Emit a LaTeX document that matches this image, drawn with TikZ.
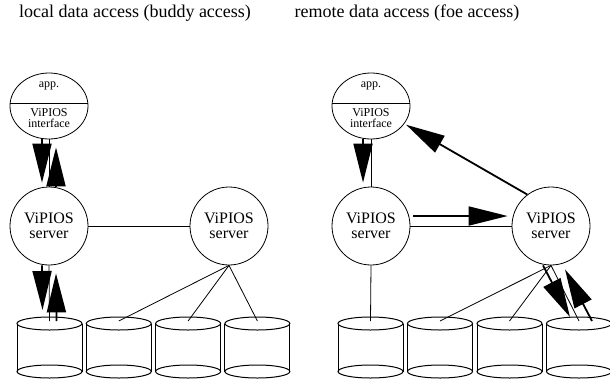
\documentclass[tikz,border=0pt]{standalone}
\usepackage{fontspec}
\setmainfont{Liberation Serif}
\usepackage{tikz}
\usetikzlibrary{arrows.meta}
\usetikzlibrary{shapes.geometric}
\tikzset{
  Server/.style={draw,circle,line width=.8pt,minimum size=78pt,inner sep=0pt,
    align=center,font=\fontsize{16}{15.5}\selectfont}, % ViPIOS-Server
  Anw/.style={draw,ellipse,line width=.8pt,minimum width=78pt,minimum height=66pt,
    inner sep=0pt}, % Anwendung
  AnwText/.style={align=center,inner sep=0pt,font=\fontsize{12}{10.5}\selectfont},
  Titel/.style={font=\fontsize{18}{20}\selectfont},
  Leitung/.style={line width=.8pt}, % duenne Verbindungen
  Platte/.style={line width=1pt}, % Plattenspeicher
  Pfeil/.style={line width=1.8pt,->} % dicke Pfeile
}

\begin{document}
\begin{tikzpicture}[x=1pt,y=-1pt,
>={Triangle[length=39pt,width=19pt]} % Voreinstellung fuer Pfeilspitzen
]
\useasboundingbox (0,0) rectangle (610,378);

%Ueberschriften
\node[Titel] (tL) at (135,13) {local data access (buddy access)};
\node[Titel] (tR) at (407,13) {remote data access (foe access)};

%Bauteile links
\node[Anw] (appL) at (49,106) {};
\node[Server] (srvA) at (49,226) {ViPIOS\\server};
\node[Server] (srvB) at (229,226) {ViPIOS\\server};

%Bauteile rechts
\node[Anw] (appR) at (371,106) {};
\node[Server] (srvC) at (371,226) {ViPIOS\\server};
\node[Server] (srvD) at (551,226) {ViPIOS\\server};

%Anwendung: Trennlinie und Text
\foreach \a in {appL,appR}{%
\draw[Leitung] ([yshift=3pt]\a.west) -- ([yshift=3pt]\a.east);
\node[AnwText] (\a-o) at ([yshift=20pt]\a.center) {app.};
\node[AnwText] (\a-u) at ([yshift=-12pt]\a.center) {ViPIOS\\interface};
};

%Platten
\foreach \x [count=\i] in {49.5,118.8,188.1,257.4}{%
\draw[Platte] (\x,323.5) ellipse [x radius=32.5,y radius=6.5];
\draw[Platte] (\x,371.5) ellipse [x radius=32.5,y radius=6.5];
\draw[Platte] ({\x-32.5},323.5) -- ({\x-32.5},371.5);
\draw[Platte] ({\x+32.5},323.5) -- ({\x+32.5},371.5);
\coordinate (pL\i) at (\x,321);
};
\foreach \x [count=\i] in {370.5,440,509.5,579}{%
\draw[Platte] (\x,323.5) ellipse [x radius=32.5,y radius=6.5];
\draw[Platte] (\x,371.5) ellipse [x radius=32.5,y radius=6.5];
\draw[Platte] ({\x-32.5},323.5) -- ({\x-32.5},371.5);
\draw[Platte] ({\x+32.5},323.5) -- ({\x+32.5},371.5);
\coordinate (pR\i) at (\x,321);
};

%Leitungen links
\draw[Leitung] (appL) -- (srvA);
\draw[Leitung] (srvA) -- (srvB);
\draw[Leitung] (srvA.south) -- (pL1);
\draw[Leitung] (srvB.south) -- (pL2);
\draw[Leitung] (srvB.south) -- (pL3);
\draw[Leitung] (srvB.south) -- (pL4);

%Leitungen rechts
\draw[Leitung] (appR) -- (srvC);
\draw[Leitung] (srvC) -- (srvD);
\draw[Leitung] (srvC.south) -- (pR1);
\draw[Leitung] (srvD.south) -- (pR2);
\draw[Leitung] (srvD.south) -- (pR3);
\draw[Leitung] (srvD.south) -- (pR4);

%Pfeile links (buddy)
\draw[Pfeil] ([xshift=-7pt]appL.south) -- ([xshift=-7pt,yshift=4pt]srvA.north);
\draw[Pfeil] ([xshift=7pt]srvA.north) -- ([xshift=7pt,yshift=-8pt]appL.south);
\draw[Pfeil] ([xshift=-7pt]srvA.south) -- ([xshift=-7pt,yshift=11pt]pL1);
\draw[Pfeil] ([xshift=7pt]pL1) -- ([xshift=7pt,yshift=-8pt]srvA.south);

%Pfeile rechts (foe)
\draw[Pfeil] ([xshift=-8pt]appR.south) -- ([xshift=-8pt,yshift=4pt]srvC.north);
\draw[Pfeil] ([xshift=3pt,yshift=10pt]srvC.east) -- ([xshift=-4pt,yshift=10pt]srvD.west);
\draw[Pfeil] ([xshift=-8pt]srvD.south) -- ([xshift=-9pt,yshift=4pt]pR4);
\draw[Pfeil] ([xshift=13pt]pR4) -- ([xshift=14pt,yshift=-4pt]srvD.south);
\draw[Pfeil,shorten >=2pt] (srvD.127) -- (appR.-28);

\end{tikzpicture}
\end{document}
